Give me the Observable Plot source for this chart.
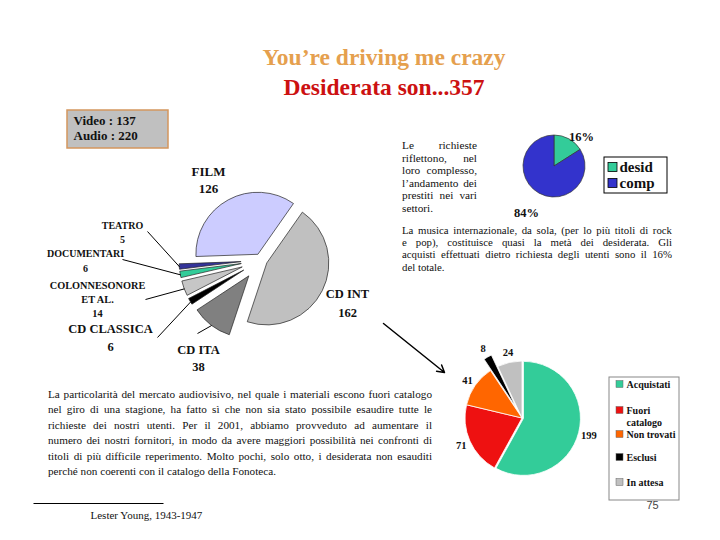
<!DOCTYPE html>
<html>
<head>
<meta charset="utf-8">
<script src="https://cdn.jsdelivr.net/npm/d3@7"></script>
<script src="https://cdn.jsdelivr.net/npm/@observablehq/plot@0.6"></script>
<style>
  body { margin: 0; background: #fff; }
  #page { position: relative; width: 720px; height: 540px; overflow: hidden; background: #fff;
          font-family: 'Liberation Serif', 'Times New Roman', serif; color: #111; }
  #chart { position: absolute; left: 0; top: 0; }
  .title { position: absolute; left: 0; width: 768px; text-align: center; font-weight: bold; font-size: 23.5px; line-height: 27px; white-space: nowrap; }
  .para { position: absolute; }
  .para .l { text-align: justify; text-align-last: justify; white-space: nowrap; overflow: visible; }
  .para .l.last { text-align-last: left; }
</style>
</head>
<body>
<div id="page">
  <div id="chart"></div>
  <div class="title" style="top:44px;color:#E5A04E">You’re driving me crazy</div>
  <div class="title" style="top:74px;color:#CC1111">Desiderata son...357</div>
  <div class="para" id="p1" style="left:402px;top:139px;width:75px;font-size:11.3px;line-height:12.6px"></div>
  <div class="para" id="p2" style="left:402px;top:224px;width:270px;font-size:10.8px;line-height:12.2px"></div>
  <div class="para" id="p3" style="left:48px;top:387px;width:384px;font-size:11.2px;line-height:15.4px"></div>
</div>
<script>
// ---------- DATA ----------
const mediaTypes = ["Video", "Audio"];
const mediaCounts = [137, 220];

const genreCats = ["CD INT", "CD ITA", "CD CLASSICA", "COLONNESONORE\nET AL.", "DOCUMENTARI", "TEATRO", "FILM"];
const genreCounts = [162, 38, 6, 14, 6, 5, 126];

const shareCats = ["desid", "comp"];
const shareValues = [16, 84];
const shareLabels = ["16%", "84%"];

const outcomeCats = ["Acquistati", "Fuori\ncatalogo", "Non trovati", "Esclusi", "In attesa"];
const outcomeCounts = [199, 71, 41, 8, 24];

const textRight1 = ["Le richieste", "riflettono, nel", "loro complesso,", "l’andamento dei", "prestiti nei vari", "settori."];
const textRight2 = [
  "La musica internazionale, da sola, (per lo più titoli di rock",
  "e pop), costituisce quasi la metà dei desiderata. Gli",
  "acquisti effettuati dietro richiesta degli utenti sono il 16%",
  "del totale."
];
const textBottom = [
  "La particolarità del mercato audiovisivo, nel quale i materiali escono fuori catalogo",
  "nel giro di una stagione, ha fatto sì che non sia stato possibile esaudire tutte le",
  "richieste dei nostri utenti. Per il 2001, abbiamo provveduto ad aumentare il",
  "numero dei nostri fornitori, in modo da avere maggiori possibilità nei confronti di",
  "titoli di più difficile reperimento. Molto pochi, solo otto, i desiderata non esauditi",
  "perché non coerenti con il catalogo della Fonoteca."
];
const footnote = "Lester Young, 1943-1947";
const pageNumber = "75";

// ---------- STYLES / LAYOUT ----------
const genreColors = {"CD INT": "#C0C0C0", "CD ITA": "#808080", "CD CLASSICA": "#000000",
  "COLONNESONORE\nET AL.": "#C6C6C6", "DOCUMENTARI": "#33CC99", "TEATRO": "#333399", "FILM": "#CCCCFF"};
const shareColors = {"desid": "#33CC99", "comp": "#3333CC"};
const outcomeColors = {"Acquistati": "#33CC99", "Fuori\ncatalogo": "#EE1111", "Non trovati": "#FF6600",
  "Esclusi": "#000000", "In attesa": "#C0C0C0"};

function fillPara(id, lines) {
  const el = document.getElementById(id);
  lines.forEach((t, i) => {
    const d = document.createElement("div");
    d.className = "l" + (i === lines.length - 1 ? " last" : "");
    d.textContent = t;
    el.appendChild(d);
  });
}
fillPara("p1", textRight1);
fillPara("p2", textRight2);
fillPara("p3", textBottom);

const rad = (deg) => deg * Math.PI / 180;
function makePie(cats, vals, startDeg) {
  return d3.pie().sort(null).value(d => d.value)
    .startAngle(rad(startDeg)).endAngle(rad(startDeg) + 2 * Math.PI)(cats.map((c, i) => ({cat: c, value: vals[i]})));
}
const mid = a => (a.startAngle + a.endAngle) / 2;
function polar(cx, cy, r, ang) { return [cx + r * Math.sin(ang), cy - r * Math.cos(ang)]; }

// pie geometries
const P1 = {cx: 261, cy: 260, r: 62, start: 35};
const P2 = {cx: 554, cy: 166, r: 31, start: 0};
const P3 = {cx: 522, cy: 418, r: 57, start: 0};

const genreArcs = makePie(genreCats, genreCounts, P1.start);
const shareArcs = makePie(shareCats, shareValues, P2.start);
const outcomeArcs = makePie(outcomeCats, outcomeCounts, P3.start);

const explode1 = a => (a.data.value > 100 ? 6.5 : 20);
const explode3 = a => (a.data.cat === "Esclusi" ? 13 : a.data.cat === "Acquistati" ? 1.5 : 0);

function pieMark(arcs, P, explode, colors, stroke, strokeWidth) {
  return (index, scales) => {
    const g = d3.create("svg:g");
    const arc = d3.arc().innerRadius(0).outerRadius(P.r);
    for (const a of arcs) {
      const [x, y] = polar(scales.x(P.cx), scales.y(P.cy), explode(a), mid(a));
      g.append("path").attr("d", arc(a)).attr("transform", `translate(${x},${y})`)
        .attr("fill", colors[a.data.cat]).attr("stroke", stroke).attr("stroke-width", strokeWidth)
        .attr("stroke-linejoin", "round");
    }
    return g.node();
  };
}

// genre labels layout: name position, line gap, font size, leader start
const genreLabelLayout = {
  "CD INT": {x: 347, y: 293, gap: 19, fs: 12.5},
  "CD ITA": {x: 198, y: 349, gap: 17, fs: 12.5, lx: 197, ly: 333},
  "CD CLASSICA": {x: 110, y: 328, gap: 18, fs: 12.5, lx: 157, ly: 337},
  "COLONNESONORE\nET AL.": {x: 97, y: 285, gap: 14, fs: 10.3, lx: 145, ly: 299},
  "DOCUMENTARI": {x: 85, y: 253, gap: 15, fs: 10, lx: 122, ly: 259},
  "TEATRO": {x: 122, y: 225, gap: 14, fs: 10, lx: 147, ly: 231},
  "FILM": {x: 208, y: 171, gap: 17, fs: 13}
};
const genreLabelLines = [];
const genreLeaders = [];
for (const a of genreArcs) {
  const L = genreLabelLayout[a.data.cat];
  const lines = [...a.data.cat.split("\n"), String(a.data.value)];
  lines.forEach((t, i) => genreLabelLines.push({text: t, x: L.x, y: L.y + i * L.gap, fs: L.fs}));
  if (L.lx !== undefined) {
    const [x2, y2] = polar(P1.cx, P1.cy, P1.r + explode1(a), mid(a));
    genreLeaders.push({x1: L.lx, y1: L.ly, x2, y2});
  }
}

// share labels (radial offset and angular nudge per label)
const shareLabelNudge = [{dr: 9, da: 0.24}, {dr: 23, da: 0.04}];
const shareLabelPts = shareArcs.map((a, i) => {
  const [x, y] = polar(P2.cx, P2.cy, P2.r + shareLabelNudge[i].dr, mid(a) + shareLabelNudge[i].da);
  return {text: shareLabels[i], x, y};
});
// share legend
const L2 = {x1: 604, y1: 157, x2: 667, y2: 193, sx: 608, tx: 619, y0: 167, dy: 16, s: 9};
const shareLegend = shareCats.map((c, i) => ({cat: c, y: L2.y0 + i * L2.dy}));

// outcome labels
const outcomeLabelPts = outcomeArcs.map(a => {
  const [x, y] = polar(P3.cx, P3.cy, P3.r + 10 + explode3(a), mid(a));
  return {text: String(a.data.value), x, y};
});
// outcome legend
const L3 = {x1: 609, y1: 377, x2: 679, y2: 500, sx: 616, tx: 626, ys: [384, 410, 434, 457, 482], gap: 12, s: 7};
const outcomeLegendLines = [];
const outcomeSwatches = [];
outcomeCats.forEach((c, i) => {
  outcomeSwatches.push({cat: c, y: L3.ys[i]});
  c.split("\n").forEach((t, j) => outcomeLegendLines.push({text: t, y: L3.ys[i] + j * L3.gap}));
});

// media box
const mediaLines = mediaTypes.map((m, i) => ({text: `${m} : ${mediaCounts[i]}`, y: 120 + i * 15}));

const serif = "'Liberation Serif', 'Times New Roman', serif";

const chart = Plot.plot({
  width: 720, height: 540,
  marginTop: 0, marginRight: 0, marginBottom: 0, marginLeft: 0,
  x: {domain: [0, 720], range: [0, 720], axis: null},
  y: {domain: [0, 540], range: [0, 540], axis: null},
  style: {background: "transparent", fontFamily: serif, overflow: "visible"},
  marks: [
    // media box
    Plot.rect([{}], {x1: 67, x2: 168, y1: 110, y2: 148, fill: "#C0C0C0", stroke: "#D4965E", strokeWidth: 1.5}),
    Plot.text(mediaLines, {x: () => 73, y: "y", text: "text", textAnchor: "start", fontWeight: "bold", fontSize: 13, fill: "#111", fontFamily: serif}),
    // main pie
    pieMark(genreArcs, P1, explode1, genreColors, "#222", 0.7),
    Plot.link(genreLeaders, {x1: "x1", y1: "y1", x2: "x2", y2: "y2", stroke: "#000", strokeWidth: 1}),
    Plot.text(genreLabelLines, {x: "x", y: "y", text: "text", fontSize: "fs", fontWeight: "bold", fill: "#111", fontFamily: serif}),
    // share pie
    pieMark(shareArcs, P2, () => 0, shareColors, "#333", 0.7),
    Plot.text(shareLabelPts, {x: "x", y: "y", text: "text", fontSize: 12.5, fontWeight: "bold", fill: "#111", fontFamily: serif}),
    Plot.rect([L2], {x1: "x1", x2: "x2", y1: "y1", y2: "y2", fill: "#fff", stroke: "#000", strokeWidth: 1}),
    Plot.rect(shareLegend, {x1: () => L2.sx, x2: () => L2.sx + L2.s, y1: d => d.y - L2.s / 2, y2: d => d.y + L2.s / 2,
      fill: d => shareColors[d.cat], stroke: "#000", strokeWidth: 0.8}),
    Plot.text(shareLegend, {x: () => L2.tx, y: "y", text: "cat", textAnchor: "start", fontSize: 15, fontWeight: "bold", fill: "#111", fontFamily: serif}),
    // outcome pie
    pieMark(outcomeArcs, P3, explode3, outcomeColors, "#fff", 0.8),
    Plot.text(outcomeLabelPts, {x: "x", y: "y", text: "text", fontSize: 10.5, fontWeight: "bold", fill: "#111", fontFamily: serif}),
    Plot.rect([L3], {x1: "x1", x2: "x2", y1: "y1", y2: "y2", fill: "#fff", stroke: "#888", strokeWidth: 1}),
    Plot.rect(outcomeSwatches, {x1: () => L3.sx, x2: () => L3.sx + L3.s, y1: d => d.y - L3.s / 2, y2: d => d.y + L3.s / 2,
      fill: d => outcomeColors[d.cat], stroke: "#666", strokeWidth: 0.5}),
    Plot.text(outcomeLegendLines, {x: () => L3.tx, y: "y", text: "text", textAnchor: "start", fontSize: 10, fontWeight: "bold", fill: "#111", fontFamily: serif}),
    // arrow from first pie to outcomes
    Plot.arrow([{x1: 383, y1: 323, x2: 444, y2: 372}], {x1: "x1", y1: "y1", x2: "x2", y2: "y2", stroke: "#000", strokeWidth: 1.5, headLength: 8}),
    // footer
    Plot.link([{x1: 33, x2: 163, y: 503}], {x1: "x1", x2: "x2", y1: "y", y2: "y", stroke: "#000", strokeWidth: 1}),
    Plot.text([footnote], {x: () => 90, y: () => 515, text: d => d, textAnchor: "start", fontSize: 11, fill: "#111", fontFamily: serif}),
    Plot.text([pageNumber], {x: () => 652, y: () => 505, text: d => d, fontSize: 11, fill: "#444", fontFamily: "'Liberation Sans', Arial, sans-serif"})
  ]
});
document.getElementById("chart").appendChild(chart);
</script>
</body>
</html>
